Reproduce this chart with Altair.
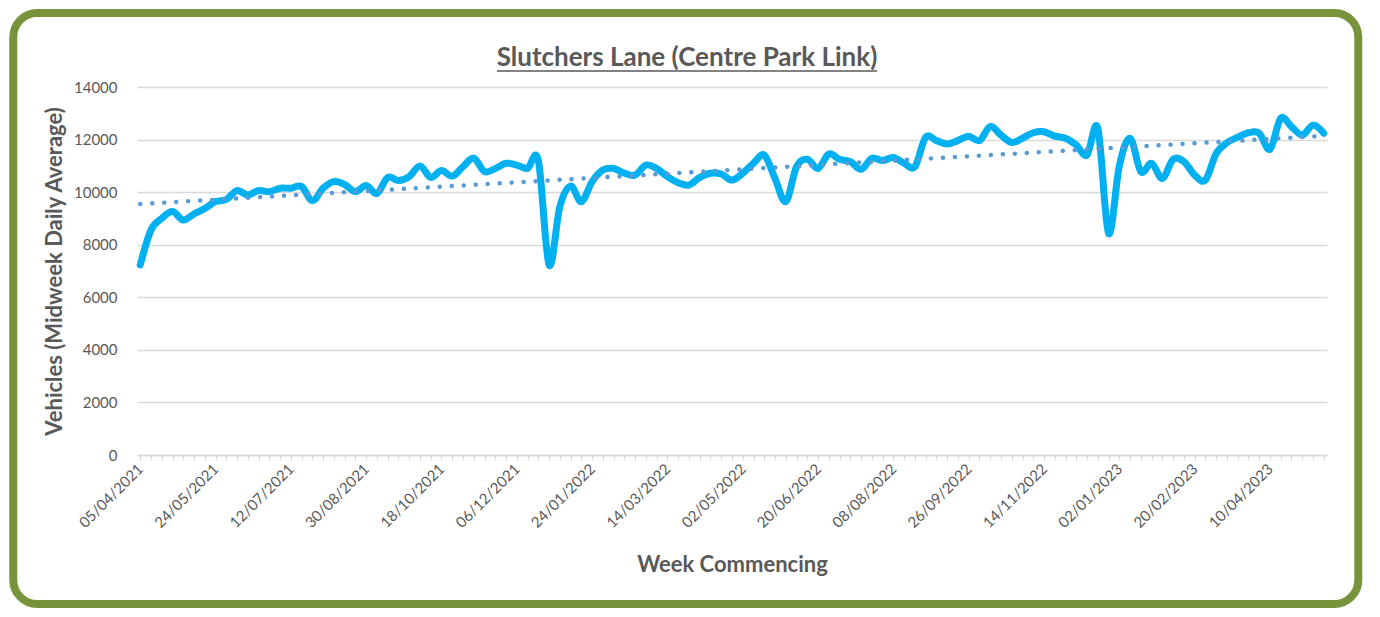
import json
import altair as alt
import pandas as pd

# ---- data ----
chart_title = "Slutchers Lane (Centre Park Link)"
y_title = "Vehicles (Midweek Daily Average)"
x_title = "Week Commencing"
first_week = "2021-04-05"

vehicles = [
    7230, 8560, 9000, 9260, 8940, 9170, 9380, 9640, 9720, 10060,
    9890, 10060, 10020, 10150, 10150, 10210, 9670, 10150, 10400, 10290,
    10020, 10250, 9950, 10560, 10440, 10590, 10990, 10560, 10820, 10610,
    10970, 11290, 10780, 10900, 11100, 11030, 10900, 11200, 7230, 9450,
    10230, 9640, 10400, 10840, 10900, 10720, 10650, 11030, 10900, 10590,
    10360, 10270, 10560, 10720, 10690, 10460, 10720, 11100, 11410, 10520,
    9640, 10970, 11250, 10900, 11450, 11250, 11160, 10870, 11290, 11200,
    11320, 11100, 10970, 12090, 11960, 11830, 11960, 12130, 11960, 12490,
    12170, 11890, 12050, 12260, 12300, 12130, 12050, 11790, 11410, 12430,
    8430, 11000, 12050, 10780, 11100, 10520, 11250, 11160, 10650, 10460,
    11470, 11880, 12090, 12260, 12240, 11630, 12810, 12490, 12170, 12550,
    12240,
]

tick_labels = [
    "05/04/2021", "24/05/2021", "12/07/2021", "30/08/2021", "18/10/2021",
    "06/12/2021", "24/01/2022", "14/03/2022", "02/05/2022", "20/06/2022",
    "08/08/2022", "26/09/2022", "14/11/2022", "02/01/2023", "20/02/2023",
    "10/04/2023",
]
y_ticks = [0, 2000, 4000, 6000, 8000, 10000, 12000, 14000]

weeks = pd.date_range(first_week, periods=len(vehicles), freq="7D").strftime("%d/%m/%Y")
df = pd.DataFrame({"week_no": list(range(len(vehicles))), "week": list(weeks), "vehicles": vehicles})
one = pd.DataFrame({"k": [0]})

GREY = "#595959"
GRID = "#D9D9D9"
W, H = 1190, 368

x_scale = alt.Scale(domain=[-0.3, len(vehicles) - 1 + 0.3], nice=False, zero=False)
y_scale = alt.Scale(domain=[0, 14000], nice=False)

label_expr = "datum.value % 7 === 0 ? " + json.dumps(tick_labels) + "[datum.value / 7] : ''"

x_axis = alt.Axis(
    title=x_title, values=list(range(len(vehicles))), tickCount=len(vehicles) + 5,
    labelExpr=label_expr,
    labelAngle=-45, labelAlign="right", labelBaseline="middle", labelOverlap=False,
    labelFlush=False, labelBound=False, labelPadding=6, labelFont="Lato", labelFontSize=15,
    labelColor=GREY, tickSize=5, tickColor=GRID, tickWidth=1.3, domainColor=GRID,
    domainWidth=1.5, grid=False, titleFont="Lato", titleFontSize=22, titleFontWeight="bold",
    titleColor=GREY, titlePadding=24,
)
y_axis = alt.Axis(
    title=y_title, values=y_ticks, format="d", domain=False, ticks=False,
    labelPadding=20, labelFont="Lato", labelFontSize=15, labelColor=GREY,
    grid=True, gridColor=GRID, gridWidth=1.4, titleFont="Lato", titleFontSize=22,
    titleFontWeight="bold", titleColor=GREY, titlePadding=7,
)

border = alt.Chart(one).mark_rect(
    fillOpacity=0, stroke="#77933C", strokeWidth=8, cornerRadius=24
).encode(
    x=alt.value(-123.7), x2=alt.value(1221.3), y=alt.value(-74), y2=alt.value(517)
)

line = alt.Chart(df).mark_line(
    color="#00B0F0", strokeWidth=7, interpolate="cardinal", strokeCap="round", strokeJoin="round"
).encode(
    x=alt.X("week_no:Q", scale=x_scale, axis=x_axis),
    y=alt.Y("vehicles:Q", scale=y_scale, axis=y_axis),
)

trend = alt.Chart(df).transform_regression("week_no", "vehicles").mark_line(
    color="#5B9BD5", strokeWidth=4.5, strokeDash=[0.1, 11.9], strokeCap="round"
).encode(
    x=alt.X("week_no:Q", scale=x_scale),
    y=alt.Y("vehicles:Q", scale=y_scale),
)

title_text = alt.Chart(one).mark_text(
    text=chart_title, font="Lato", fontSize=26, fontWeight="bold", color=GREY,
    align="center", baseline="middle",
).encode(x=alt.value(550), y=alt.value(-29))

underline = alt.Chart(one).mark_rule(color=GREY, strokeWidth=1.5).encode(
    x=alt.value(360), x2=alt.value(740), y=alt.value(-16)
)

chart = alt.layer(border, line, trend, title_text, underline).properties(
    width=W, height=H, background="white",
    padding={"left": 1, "top": 1, "right": 1, "bottom": 1},
).configure_view(stroke=None)

chart.save("out.html", embed_options={"renderer": "svg", "actions": False})
